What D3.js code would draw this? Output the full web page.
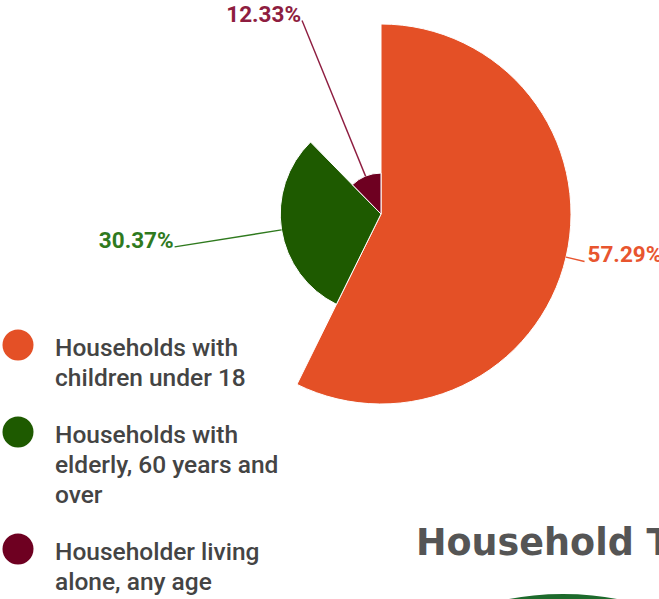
<!DOCTYPE html>
<html>
<head>
<meta charset="utf-8">
<script src="https://cdn.jsdelivr.net/npm/d3@7"></script>
<style>
  html, body { margin: 0; padding: 0; background: #fff; overflow: hidden; }
  svg { display: block; }
</style>
</head>
<body>
<div id="chart"></div>
<script>
// household composition shares (percent)
var categories = ["Households with children under 18",
                  "Households with elderly, 60 years and over",
                  "Householder living alone, any age"];
var values = [57.29, 30.37, 12.33];
var legendLines = [["Households with", "children under 18"],
                   ["Households with", "elderly, 60 years and", "over"],
                   ["Householder living", "alone, any age"]];
var colors = ["#e45026", "#1e5a00", "#6e0021"];
var labelColors = ["#e8552f", "#2f7a1e", "#8e1d40"];

var width = 659, height = 599,
    cx = 381, cy = 214,
    maxR = 190;

var svg = d3.select("#chart").append("svg")
    .attr("width", width)
    .attr("height", height);

var rScale = d3.scaleLinear()
    .domain([0, d3.max(values)])
    .range([0, maxR]);

var pie = d3.pie().sort(null)(values);

var g = svg.append("g")
    .attr("transform", "translate(" + cx + "," + cy + ")");

g.selectAll("path.slice")
    .data(pie)
    .enter()
    .append("path")
    .attr("class", "slice")
    .attr("d", function (d) { return d3.arc().innerRadius(0).outerRadius(rScale(d.data))(d); })
    .attr("fill", function (d, i) { return colors[i]; })
    .attr("stroke", "#fff")
    .attr("stroke-width", 1);

// leader lines run radially out to a common radius
var lineR = maxR * 1.1;
function pointAt(angle, r) { return [Math.sin(angle) * r, -Math.cos(angle) * r]; }

g.selectAll("line.leader")
    .data(pie)
    .enter()
    .append("line")
    .attr("class", "leader")
    .attr("x1", function (d) { return pointAt((d.startAngle + d.endAngle) / 2, rScale(d.data))[0]; })
    .attr("y1", function (d) { return pointAt((d.startAngle + d.endAngle) / 2, rScale(d.data))[1]; })
    .attr("x2", function (d) { return pointAt((d.startAngle + d.endAngle) / 2, lineR)[0]; })
    .attr("y2", function (d) { return pointAt((d.startAngle + d.endAngle) / 2, lineR)[1]; })
    .attr("stroke", function (d, i) { return labelColors[i]; })
    .attr("stroke-width", 1.4);

g.selectAll("text.pct")
    .data(pie)
    .enter()
    .append("text")
    .attr("class", "pct")
    .text(function (d) { return d.data.toFixed(2) + "%"; })
    .attr("x", function (d) {
        var p = pointAt((d.startAngle + d.endAngle) / 2, lineR);
        return p[0] + (p[0] > 0 ? 3 : -1);
    })
    .attr("y", function (d) { return pointAt((d.startAngle + d.endAngle) / 2, lineR)[1] + 1; })
    .style("text-anchor", function (d) { return pointAt((d.startAngle + d.endAngle) / 2, lineR)[0] > 0 ? "start" : "end"; })
    .attr("fill", function (d, i) { return labelColors[i]; })
    .style("font-family", "Roboto, sans-serif")
    .style("font-weight", 700)
    .style("font-size", "22.5px");

// legend
var lineH = 30, groupGap = 27;
var legendTops = [];
var legendY = 345;
legendLines.forEach(function (lines) {
    legendTops.push(legendY);
    legendY += lines.length * lineH + groupGap;
});

var legend = svg.selectAll("g.legend")
    .data(categories)
    .enter()
    .append("g")
    .attr("class", "legend")
    .attr("transform", function (d, i) { return "translate(18," + legendTops[i] + ")"; });

legend.append("circle")
    .attr("r", 15.5)
    .attr("fill", function (d, i) { return colors[i]; });

legend.append("text")
    .attr("x", 37)
    .attr("y", 11)
    .style("font-family", "Roboto, sans-serif")
    .style("font-weight", 500)
    .style("font-size", "24.5px")
    .attr("fill", "#444")
    .selectAll("tspan")
    .data(function (d, i) { return legendLines[i]; })
    .enter()
    .append("tspan")
    .attr("x", 37)
    .attr("dy", function (d, i) { return i === 0 ? 0 : lineH; })
    .text(function (d) { return d; });

// heading of the next section, cut by the frame
svg.append("text")
    .text("Household Type")
    .attr("x", 416)
    .attr("y", 555)
    .attr("fill", "#555")
    .style("font-family", "'DejaVu Sans', sans-serif")
    .style("font-weight", 700)
    .style("font-size", "36.5px");

svg.append("ellipse")
    .attr("cx", 563)
    .attr("cy", 900)
    .attr("rx", 300)
    .attr("ry", 306)
    .attr("fill", "#1d6a2c");
</script>
</body>
</html>
